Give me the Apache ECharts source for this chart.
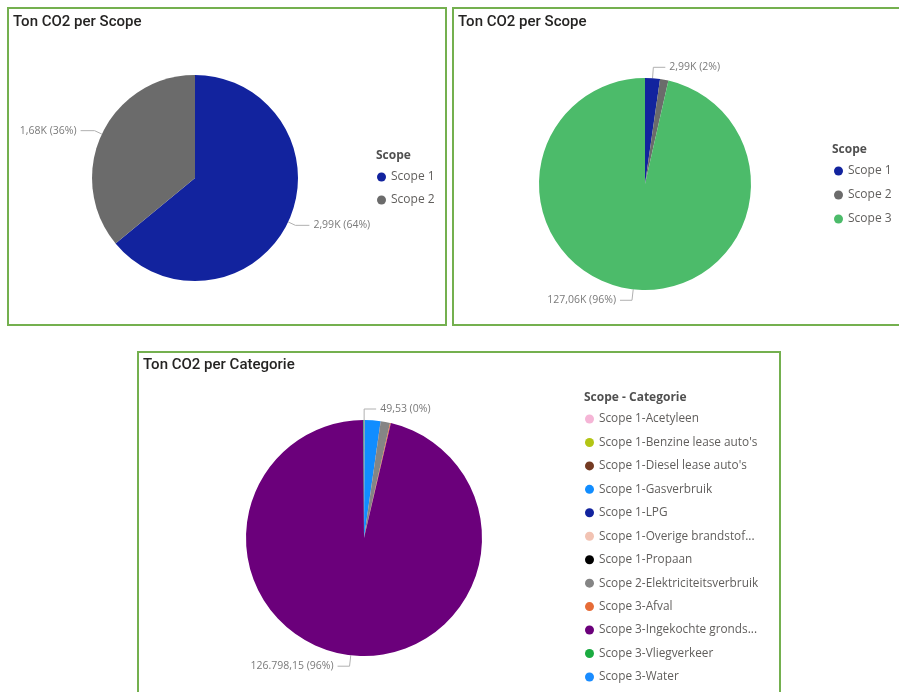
<!DOCTYPE html>
<html>
<head>
<meta charset="utf-8">
<script src="https://cdn.jsdelivr.net/npm/echarts@6/dist/echarts.min.js"></script>
<style>
  html, body { margin: 0; padding: 0; background: #fff; }
  #main { width: 899px; height: 692px; }
</style>
</head>
<body>
<div id="main"></div>
<script>
// data: Ton CO2 per scope / per categorie
var scopeNames = ['Scope 1', 'Scope 2', 'Scope 3'];
var scopeColors = ['#12239e', '#6b6b6b', '#4cbb6a'];
var scope12Values = [2990, 1680];
var scope123Values = [2990, 1680, 127060];

var catNames = [
    'Scope 1-Acetyleen',
    "Scope 1-Benzine lease auto's",
    "Scope 1-Diesel lease auto's",
    'Scope 1-Gasverbruik',
    'Scope 1-LPG',
    'Scope 1-Overige brandstoffen',
    'Scope 1-Propaan',
    'Scope 2-Elektriciteitsverbruik',
    'Scope 3-Afval',
    'Scope 3-Ingekochte grondstoffen',
    'Scope 3-Vliegverkeer',
    'Scope 3-Water'
];
var catValues = [49.53, 18.4, 61.2, 2826.5, 14.2, 6.3, 13.9, 1680, 148.3, 126798.15, 104.6, 8.95];
var catColors = ['#f5b5d6', '#b3c514', '#743a22', '#118dff', '#12239e', '#f2c3b3',
                 '#000000', '#858585', '#e66c37', '#6b007b', '#1aab40', '#1a8cff'];

// which slices get a data label (as in the report)
var labelsA = ['Scope 1', 'Scope 2'];
var labelsB = ['Scope 1', 'Scope 3'];
var labelsC = ['Scope 1-Acetyleen', 'Scope 3-Ingekochte grondstoffen'];

function fmtK(v) {
    return (v / 1000).toFixed(2).replace('.', ',') + 'K';
}
function fmtNL(v) {
    var p = v.toFixed(2).split('.');
    p[0] = p[0].replace(/\B(?=(\d{3})+(?!\d))/g, '.');
    return p.join(',');
}

function buildData(names, values, colors, labelled) {
    return names.map(function (n, i) {
        var show = labelled.indexOf(n) >= 0;
        return {
            name: n,
            value: values[i],
            itemStyle: {color: colors[i]},
            label: {show: show},
            labelLine: {show: show}
        };
    });
}

var labelFont = {fontFamily: 'Open Sans', fontSize: 10.5, color: '#7a7a7a'};
var titleFont = {fontFamily: 'Roboto', fontSize: 15, fontWeight: 500, color: '#252423'};
var headFont = {fontFamily: 'Open Sans', fontSize: 12, fontWeight: 'bold', color: '#505050'};
var legendText = {fontFamily: 'Open Sans', fontSize: 12, color: '#605e5c', lineHeight: 14};
var catLegendText = {fontFamily: 'Open Sans', fontSize: 11.8, color: '#605e5c', lineHeight: 14,
                     width: 161, overflow: 'truncate', ellipsis: '...'};

function pie(center, radius, data, fmt, len, len2) {
    return {
        type: 'pie',
        center: center,
        radius: radius,
        startAngle: 90,
        avoidLabelOverlap: false,
        data: data,
        emphasis: {disabled: true},
        label: Object.assign({
            position: 'outside',
            formatter: function (p) {
                return fmt(p.value) + ' (' + Math.round(p.percent) + '%)';
            },
            distanceToLabelLine: 4
        }, labelFont),
        labelLine: {length: len, length2: len2, lineStyle: {color: '#b0b0b0', width: 1}}
    };
}

var myChart = echarts.init(document.getElementById('main'));
option = {
    animation: false,
    title: [
        {text: 'Ton CO2 per Scope', left: 8, top: 10, textStyle: titleFont},
        {text: 'Ton CO2 per Scope', left: 453, top: 10, textStyle: titleFont},
        {text: 'Ton CO2 per Categorie', left: 138, top: 353, textStyle: titleFont},
        {text: 'Scope', left: 371, top: 145, textStyle: headFont},
        {text: 'Scope', left: 827, top: 139, textStyle: headFont},
        {text: 'Scope - Categorie', left: 579, top: 387, textStyle: headFont}
    ],
    legend: [
        {
            orient: 'vertical', left: 372, top: 165, itemGap: 9,
            icon: 'circle', itemWidth: 9, itemHeight: 9,
            data: scopeNames.slice(0, 2), textStyle: legendText, selectedMode: false
        },
        {
            orient: 'vertical', left: 829, top: 159, itemGap: 10,
            icon: 'circle', itemWidth: 9, itemHeight: 9,
            data: scopeNames, textStyle: legendText, selectedMode: false
        },
        {
            orient: 'vertical', left: 580, top: 407, height: 300, itemGap: 9.45,
            icon: 'circle', itemWidth: 9, itemHeight: 9,
            data: catNames, selectedMode: false, textStyle: catLegendText
        }
    ],
    graphic: [
        {type: 'rect', shape: {x: 8, y: 8, width: 438, height: 317}, style: {fill: 'none', stroke: '#74b04f', lineWidth: 2}},
        {type: 'rect', shape: {x: 453, y: 8, width: 470, height: 317}, style: {fill: 'none', stroke: '#74b04f', lineWidth: 2}},
        {type: 'rect', shape: {x: 138, y: 352, width: 642, height: 380}, style: {fill: 'none', stroke: '#74b04f', lineWidth: 2}}
    ],
    series: [
        pie([195, 178], 103, buildData(scopeNames.slice(0, 2), scope12Values, scopeColors, labelsA), fmtK, 8, 14),
        pie([645, 184], 106, buildData(scopeNames, scope123Values, scopeColors, labelsB), fmtK, 11, 12),
        pie([364, 538], 118, buildData(catNames, catValues, catColors, labelsC), fmtNL, 11, 12)
    ]
};
myChart.setOption(option);
</script>
</body>
</html>
